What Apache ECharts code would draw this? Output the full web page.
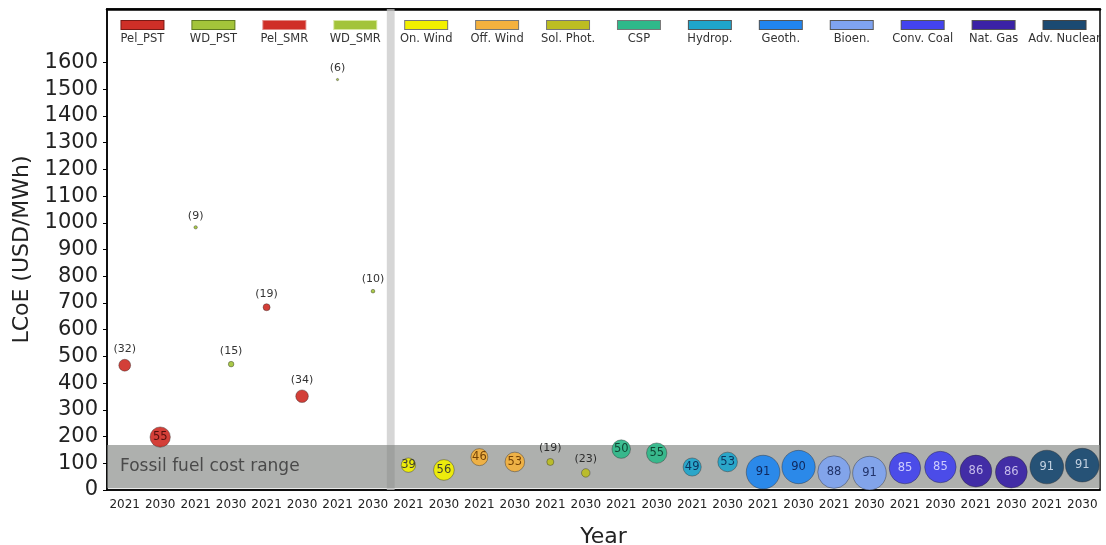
<!DOCTYPE html>
<html>
<head>
<meta charset="utf-8">
<script src="https://cdn.jsdelivr.net/npm/echarts@6/dist/echarts.min.js"></script>
<style>
  html, body { margin: 0; padding: 0; background: #fff; }
  #main { width: 1106px; height: 545px; }
</style>
</head>
<body>
<div id="main"></div>
<script>
// technologies, two years each
var groups = ['Pel_PST', 'WD_PST', 'Pel_SMR', 'WD_SMR', 'On. Wind', 'Off. Wind', 'Sol. Phot.', 'CSP',
              'Hydrop.', 'Geoth.', 'Bioen.', 'Conv. Coal', 'Nat. Gas', 'Adv. Nuclear'];
var years = ['2021', '2030'];
// LCoE (USD/MWh)
var lcoe2021 = [467, 983, 684, 1536, 93, 123, 105, 153, 86, 67, 67, 82, 71, 86];
var lcoe2030 = [198, 471, 351, 744, 75, 105, 64, 138, 105, 86, 63, 86, 67, 93];
// capacity factor (%), shown as bubble label and size
var cf2021 = [32, 9, 19, 6, 39, 46, 19, 50, 49, 91, 88, 85, 86, 91];
var cf2030 = [55, 15, 34, 10, 56, 53, 23, 55, 53, 90, 91, 85, 86, 91];
// fossil fuel cost range (USD/MWh)
var fossilRange = [7, 168];

var colors = ['#cf2f27', '#a3c43a', '#cf2f27', '#a3c43a', '#f2f000', '#f4b13e', '#bcbd22', '#2fb98a',
              '#1fa5cc', '#2185ef', '#7fa3f0', '#4343ee', '#3a22a6', '#1b4a72'];
var borderColors = ['#7a1a15', '#5f7a20', '#e08a84', '#d8e8a0', '#777', '#777', '#777', '#777',
                    '#555', '#555', '#555', '#555', '#555', '#444'];
var labelColors = ['#4a0c0a', '#333', '#4a0c0a', '#333', '#333', '#6a3a00', '#333', '#0c3a2a',
                   '#0a2a55', '#0d2050', '#1a2a60', '#d8d8ff', '#d0c8f0', '#d0dcea'];

var font = 'DejaVu Sans';
var yearLabels = [];
groups.forEach(function () { yearLabels.push(years[0], years[1]); });

var rich = { t: { fontSize: 11.5, color: '#333', fontFamily: font, lineHeight: 16, align: 'center' } };
groups.forEach(function (g, i) {
  rich['b' + i] = {
    width: 42, height: 8, backgroundColor: colors[i],
    borderColor: borderColors[i], borderWidth: 1, lineHeight: 12, align: 'center'
  };
});

function point(x, y, cf) {
  var outside = cf < 35;
  return {
    value: [x, y, cf],
    label: outside
      ? { position: 'top', distance: 4, formatter: '(' + cf + ')', color: '#222', fontSize: 11 }
      : { position: 'inside', formatter: String(cf) }
  };
}

var series = groups.map(function (g, i) {
  return {
    name: g,
    type: 'scatter',
    z: 3,
    data: [point(2 * i, lcoe2021[i], cf2021[i]), point(2 * i + 1, lcoe2030[i], cf2030[i])],
    symbolSize: function (v) { return v[2] * 0.37; },
    itemStyle: { color: colors[i], opacity: 0.92, borderColor: 'rgba(40,40,40,0.55)', borderWidth: 0.8 },
    label: { show: true, fontSize: 11.5, fontFamily: font, color: labelColors[i] }
  };
});

// separator and fossil band
series.unshift({
  type: 'scatter',
  xAxisIndex: 2,
  z: 1,
  data: [],
  markArea: {
    silent: true,
    data: [
      [{ xAxis: 7.89, itemStyle: { color: 'rgba(200,200,200,0.75)' } }, { xAxis: 8.11 }],
      [{ yAxis: fossilRange[0], itemStyle: { color: 'rgba(130,134,130,0.65)' },
         label: { show: true, position: 'insideLeft', distance: 13, formatter: 'Fossil fuel cost range',
                  fontSize: 17, color: '#4a4a4a', fontFamily: font } },
       { yAxis: fossilRange[1] }]
    ]
  }
});

var chart = echarts.init(document.getElementById('main'));
chart.setOption({
  animation: false,
  grid: { left: 107, right: 6, top: 9, bottom: 55, show: true, borderColor: '#000', borderWidth: 1.5,
          outerBoundsMode: 'none', containLabel: false },
  xAxis: [
    {
      type: 'category', data: yearLabels, position: 'bottom',
      axisLine: { lineStyle: { color: '#000', width: 1.5 } },
      axisTick: { length: 5, lineStyle: { color: '#000' } },
      axisLabel: { interval: 0, fontSize: 12, color: '#222', margin: 9, fontFamily: font },
      name: 'Year', nameLocation: 'middle', nameGap: 36,
      nameTextStyle: { fontSize: 22, color: '#222', fontFamily: font }
    },
    {
      type: 'category', data: groups, position: 'top',
      axisLine: { show: true, lineStyle: { color: '#000', width: 2.5 } }, axisTick: { show: false },
      axisLabel: {
        inside: true, interval: 0, margin: 10,
        formatter: function (v, i) { return '{b' + i + '| }\n{t|' + v + '}'; },
        rich: rich
      }
    },
    { type: 'value', min: 0, max: 28, show: false }
  ],
  yAxis: {
    type: 'value', min: 0, max: 1800, interval: 100,
    splitLine: { show: false },
    axisLine: { show: true, lineStyle: { color: '#000', width: 1.5 } },
    axisTick: { show: true, length: 4, lineStyle: { color: '#000' },
                customValues: [0,100,200,300,400,500,600,700,800,900,1000,1100,1200,1300,1400,1500,1600] },
    axisLabel: { fontSize: 21, color: '#222', margin: 9, fontFamily: font,
                 formatter: function (v) { return v > 1600 ? '' : v; } },
    name: 'LCoE (USD/MWh)', nameLocation: 'middle', nameGap: 63,
    nameTextStyle: { fontSize: 22, color: '#222', fontFamily: font }
  },
  series: series
});
</script>
</body>
</html>
